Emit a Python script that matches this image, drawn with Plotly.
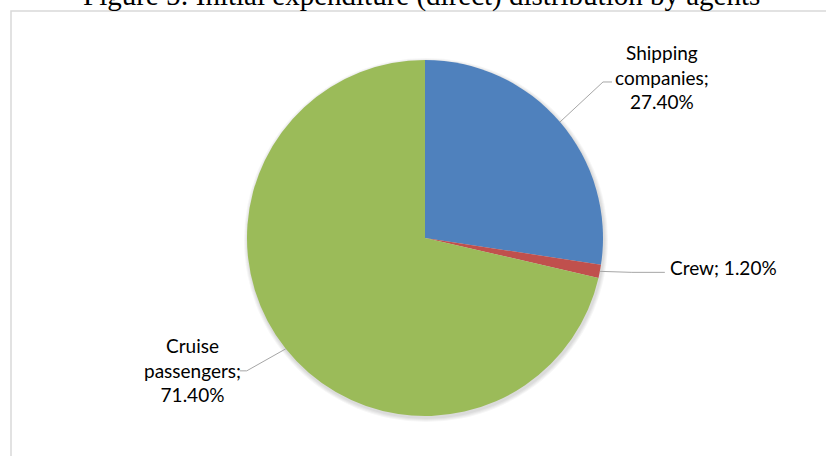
import math
import plotly.graph_objects as go

# ---- data ----
categories = ["Shipping companies", "Crew", "Cruise passengers"]
label_lines = ["Shipping<br>companies;", "Crew;", "Cruise<br>passengers;"]
values = [27.4, 1.2, 71.4]
colors = ["#4F81BD", "#C0504D", "#9BBB59"]
title_text = "Figure 5: Initial expenditure (direct) distribution by agents"

# ---- layout geometry (pixels in the final screenshot) ----
W, H = 826, 456
cx, cy, R = 425, 238, 178
leader = [
    dict(elbow=(43, -40), end=(52, -40), text=(102, -45), xanchor="center", sep="<br>"),
    dict(elbow=(32, 1), end=(65, 1), text=(68, -4), xanchor="left", sep=" "),
    dict(elbow=(-39, 22), end=(-46, 22), text=(-93, 21), xanchor="center", sep="<br>"),
]


def px(x):
    return x / W


def py(y):
    return 1 - y / H


fig = go.Figure()

# soft shadow approximated with a few faint, slightly larger discs
for k in range(4, 0, -1):
    fig.add_trace(go.Pie(
        values=[1], labels=["shadow"],
        marker=dict(colors=["rgba(0,0,0,0.035)"], line=dict(width=0)),
        domain=dict(x=[px(cx - R - k + 1), px(cx + R + k + 1)],
                    y=[py(cy + R + k + 2), py(cy - R - k + 2)]),
        textinfo="none", hoverinfo="skip", showlegend=False, sort=False,
    ))

fig.add_trace(go.Pie(
    labels=categories, values=values,
    marker=dict(colors=colors, line=dict(width=0)),
    domain=dict(x=[px(cx - R), px(cx + R)], y=[py(cy + R), py(cy - R)]),
    direction="clockwise", rotation=0, sort=False,
    textinfo="none", showlegend=False,
))

total = sum(values)
cum = 0.0
shapes = []
annotations = []
for name, v, ld, ll in zip(categories, values, leader, label_lines):
    mid = (cum + v / 2) / total * 2 * math.pi
    cum += v
    ex = cx + R * math.sin(mid)
    ey = cy - R * math.cos(mid)
    bx, by = ex + ld["elbow"][0], ey + ld["elbow"][1]
    fx, fy = ex + ld["end"][0], ey + ld["end"][1]
    path = f"M {px(ex)} {py(ey)} L {px(bx)} {py(by)} L {px(fx)} {py(fy)}"
    shapes.append(dict(type="path", xref="paper", yref="paper", path=path,
                       line=dict(color="#A6A6A6", width=1)))
    pct = f"{v:.2f}%"
    annotations.append(dict(
        x=px(ex + ld["text"][0]), y=py(ey + ld["text"][1]), xref="paper", yref="paper",
        text=f"{ll}{ld['sep']}{pct}",
        showarrow=False, xanchor=ld["xanchor"], yanchor="middle", align="center",
        font=dict(family="Lato, sans-serif", size=19, color="#000000"),
    ))

# chart border
shapes.append(dict(type="rect", xref="paper", yref="paper",
                   x0=px(11), x1=1.05, y0=-0.05, y1=py(11),
                   line=dict(color="#D9D9D9", width=1.5), fillcolor="rgba(0,0,0,0)", layer="below"))

annotations.append(dict(
    x=px(421), y=py(14), xref="paper", yref="paper", text=title_text, showarrow=False,
    xanchor="center", yanchor="bottom",
    font=dict(family="Liberation Serif, serif", size=29, color="#000000"),
))

fig.update_layout(
    width=W, height=H, margin=dict(l=0, r=0, t=0, b=0),
    paper_bgcolor="white", plot_bgcolor="white",
    shapes=shapes, annotations=annotations, showlegend=False,
)

fig.write_html(
    "out.html",
    config={"displayModeBar": False},
    post_script="document.body.style.margin='0';document.body.style.overflow='hidden';",
)
